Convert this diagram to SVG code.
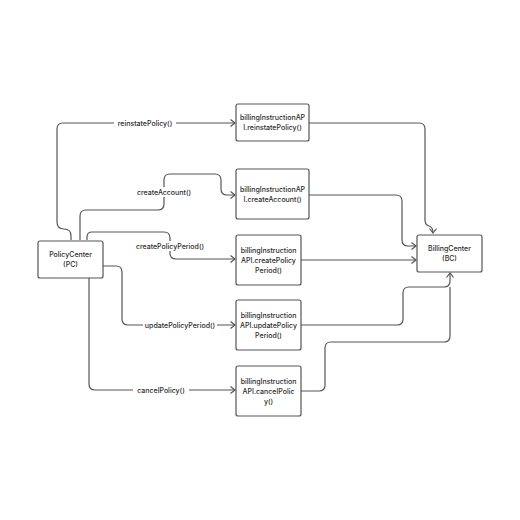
<svg xmlns="http://www.w3.org/2000/svg" width="520" height="520" viewBox="0 0 520 520">
<style>
.box{fill:#fff;stroke:#555;stroke-width:1.2}
.t{font-family:Inter,"Liberation Sans",sans-serif;font-size:7px;font-weight:500;fill:#2b2b2b;text-anchor:middle;dominant-baseline:central}
.c{fill:none;stroke:#555;stroke-width:1.2}
.bg{fill:#fff}
</style>
<defs>
<marker id="arr" markerUnits="userSpaceOnUse" markerWidth="10" markerHeight="10" refX="5" refY="4" orient="auto">
<path d="M0.5,0.5 L5,4 L0.5,7.5" fill="none" stroke="#555" stroke-width="1.2"/>
</marker>
</defs>
<rect width="520" height="520" fill="#fff"/>
<g id="connectors">
<path class="c" d="M71,240 V236 Q71,229 64,229 Q57,229 57,222 V129 Q57,123 63,123 H235" marker-end="url(#arr)"/>
<path class="c" d="M309,123 H419 Q425,123 425,129 V220 Q425,225 429,226 Q433,227 433,233" marker-end="url(#arr)"/>
<path class="c" d="M80,240 V216 Q80,210 86,210 H158 Q164,210 164,204 V180 Q164,174 170,174 H215 Q221,174 221,180 V189 Q221,195 227,195 H235" marker-end="url(#arr)"/>
<path class="c" d="M309,195 H396 Q402,195 402,201 V240 Q402,246 408,246 H416" marker-end="url(#arr)"/>
<path class="c" d="M87,240 V237 Q87,232 92,232 H164 Q170,232 170,238 V253 Q170,259 176,259 H235" marker-end="url(#arr)"/>
<path class="c" d="M301,260 H416" marker-end="url(#arr)"/>
<path class="c" d="M103,266 H116 Q122,266 122,272 V319 Q122,325 128,325 H235" marker-end="url(#arr)"/>
<path class="c" d="M301,325 H397 Q403,325 403,319 V293 Q403,287 409,287 H444 Q450,287 450,281 V273" marker-end="url(#arr)"/>
<path class="c" d="M89,278 V384 Q89,390 95,390 H235" marker-end="url(#arr)"/>
<path class="c" d="M301,391 H319 Q325,391 325,385 V348 Q325,342 331,342 H444 Q450,342 450,336 V287"/>
<rect class="bg" x="114" y="118" width="62" height="10"/>
<text class="t" x="145" y="123">reinstatePolicy()</text>
<rect class="bg" x="134" y="187" width="60" height="10"/>
<text class="t" x="164" y="192">createAccount()</text>
<rect class="bg" x="133" y="241" width="74" height="10"/>
<text class="t" x="170" y="246">createPolicyPeriod()</text>
<rect class="bg" x="143" y="320" width="74" height="10"/>
<text class="t" x="180" y="325">updatePolicyPeriod()</text>
<rect class="bg" x="133" y="385" width="56" height="10"/>
<text class="t" x="161" y="390">cancelPolicy()</text>
</g>
<g id="pc">
<rect class="box" x="38" y="241" width="65" height="37" rx="2"/>
<text class="t" x="70.5" y="254.5">PolicyCenter</text>
<text class="t" x="70.5" y="264.5">(PC)</text>
</g>
<g id="api-reinstate">
<rect class="box" x="236" y="104" width="73" height="37" rx="2"/>
<text class="t" x="272.5" y="117.5">billingInstructionAP</text>
<text class="t" x="272.5" y="127.5">I.reinstatePolicy()</text>
</g>
<g id="api-createaccount">
<rect class="box" x="236" y="169" width="73" height="50" rx="2"/>
<text class="t" x="272.5" y="189">billingInstructionAP</text>
<text class="t" x="272.5" y="199">I.createAccount()</text>
</g>
<g id="api-createpolicyperiod">
<rect class="box" x="236" y="235" width="65" height="50" rx="2"/>
<text class="t" x="268.5" y="250">billingInstruction</text>
<text class="t" x="268.5" y="260">API.createPolicy</text>
<text class="t" x="268.5" y="270">Period()</text>
</g>
<g id="api-updatepolicyperiod">
<rect class="box" x="236" y="300" width="65" height="50" rx="2"/>
<text class="t" x="268.5" y="315">billingInstruction</text>
<text class="t" x="268.5" y="325">API.updatePolicy</text>
<text class="t" x="268.5" y="335">Period()</text>
</g>
<g id="api-cancelpolicy">
<rect class="box" x="236" y="366" width="65" height="50" rx="2"/>
<text class="t" x="268.5" y="381">billingInstruction</text>
<text class="t" x="268.5" y="391">API.cancelPolic</text>
<text class="t" x="268.5" y="401">y()</text>
</g>
<g id="bc">
<rect class="box" x="417" y="235" width="65" height="37" rx="2"/>
<text class="t" x="449.5" y="248.5">BillingCenter</text>
<text class="t" x="449.5" y="258.5">(BC)</text>
</g>
</svg>
